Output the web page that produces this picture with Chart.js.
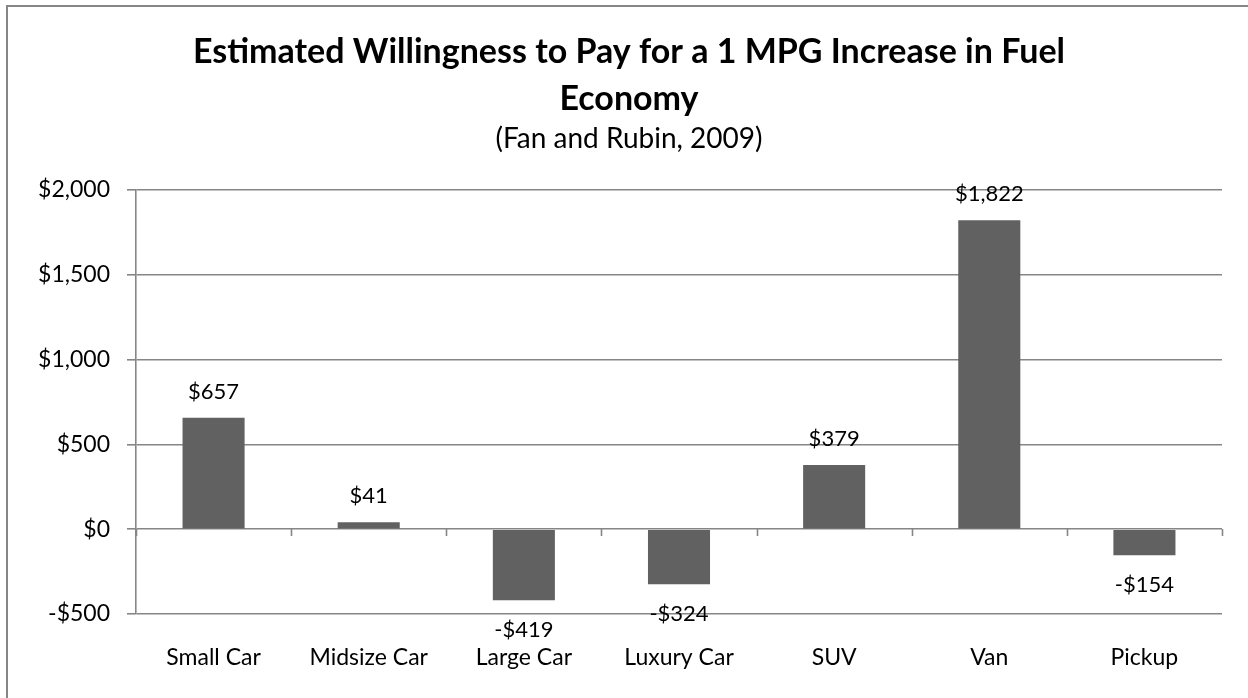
<!DOCTYPE html>
<html>
<head>
<meta charset="utf-8">
<script src="https://cdn.jsdelivr.net/npm/chart.js@4.4.1/dist/chart.umd.min.js"></script>
<style>
  html, body { margin: 0; padding: 0; background: #ffffff; }
  #wrap { position: relative; width: 1248px; height: 698px; overflow: hidden; }
  canvas { display: block; }
</style>
</head>
<body>
<div id="wrap"><canvas id="c" width="1248" height="698"></canvas></div>
<script>
const categories = ["Small Car", "Midsize Car", "Large Car", "Luxury Car", "SUV", "Van", "Pickup"];
const wtpValues = [657, 41, -419, -324, 379, 1822, -154];
const titleLines = ["Estimated Willingness to Pay for a 1 MPG Increase in Fuel", "Economy"];
const subtitleText = "(Fan and Rubin, 2009)";
const yMin = -500, yMax = 2000, yStep = 500;

const FONT = "Lato, 'Open Sans', sans-serif";
const GRID = "#868686";

function money(v) {
  const s = "$" + Math.abs(v).toLocaleString("en-US");
  return v < 0 ? "-" + s : s;
}

const framePlugin = {
  id: "frame",
  beforeDraw(chart) {
    const ctx = chart.ctx;
    ctx.save();
    ctx.fillStyle = "#ffffff";
    ctx.fillRect(0, 0, chart.width, chart.height);
    ctx.strokeStyle = GRID;
    ctx.lineWidth = 2;
    ctx.strokeRect(7, 6, 1400, 900);
    ctx.restore();
  }
};

const zeroTicksPlugin = {
  id: "zeroTicks",
  afterDraw(chart) {
    const ctx = chart.ctx;
    const x = chart.scales.x, y = chart.scales.y;
    const y0 = Math.round(y.getPixelForValue(0));
    const n = categories.length;
    const w = (x.right - x.left) / n;
    ctx.save();
    ctx.strokeStyle = GRID;
    ctx.lineWidth = 1.6;
    for (let i = 0; i <= n; i++) {
      const px = Math.round(x.getPixelForValue(i) - w / 2) + 0.5;
      ctx.beginPath();
      ctx.moveTo(px, y0);
      ctx.lineTo(px, y0 + 7);
      ctx.stroke();
    }
    ctx.restore();
  }
};

const labelPlugin = {
  id: "barLabels",
  afterDatasetsDraw(chart) {
    const ctx = chart.ctx;
    const meta = chart.getDatasetMeta(0);
    ctx.save();
    ctx.font = "22px " + FONT;
    ctx.fillStyle = "#000000";
    ctx.textAlign = "center";
    ctx.textBaseline = "middle";
    meta.data.forEach((el, i) => {
      const v = wtpValues[i];
      const ty = v >= 0 ? el.y - 26 : el.y + 30;
      ctx.fillText(money(v), el.x, ty);
    });
    ctx.restore();
  }
};

new Chart(document.getElementById("c"), {
  type: "bar",
  data: {
    labels: categories,
    datasets: [{
      data: wtpValues,
      backgroundColor: "#616161",
      borderWidth: 0,
      barPercentage: 0.4,
      categoryPercentage: 1.0
    }]
  },
  options: {
    responsive: false,
    animation: false,
    devicePixelRatio: 1,
    layout: { padding: { left: 36, right: 26, top: 0, bottom: 0 } },
    plugins: {
      legend: { display: false },
      tooltip: { enabled: false },
      title: {
        display: true,
        text: titleLines,
        color: "#000000",
        font: { family: FONT, size: 34, weight: "bold", lineHeight: 1.368 },
        padding: { top: 29, bottom: 0 }
      },
      subtitle: {
        display: true,
        text: subtitleText,
        color: "#000000",
        font: { family: FONT, size: 28, weight: "normal", lineHeight: 1.2 },
        padding: { top: 0, bottom: 34.4 }
      }
    },
    scales: {
      x: {
        grid: { display: false, drawTicks: false },
        border: { display: false },
        ticks: { color: "#000000", font: { family: FONT, size: 23 }, padding: 30, maxRotation: 0 },
        afterFit(s) { s.height = 84; }
      },
      y: {
        min: yMin, max: yMax,
        grid: { color: GRID, lineWidth: 1.6, tickLength: 9, drawTicks: true },
        border: { display: true, color: GRID, width: 1.6 },
        ticks: {
          stepSize: yStep,
          color: "#000000",
          font: { family: FONT, size: 23 },
          padding: 17,
          callback: (v) => money(v)
        },
        afterFit(s) { s.width = 100; }
      }
    }
  },
  plugins: [framePlugin, zeroTicksPlugin, labelPlugin]
});
</script>
</body>
</html>
